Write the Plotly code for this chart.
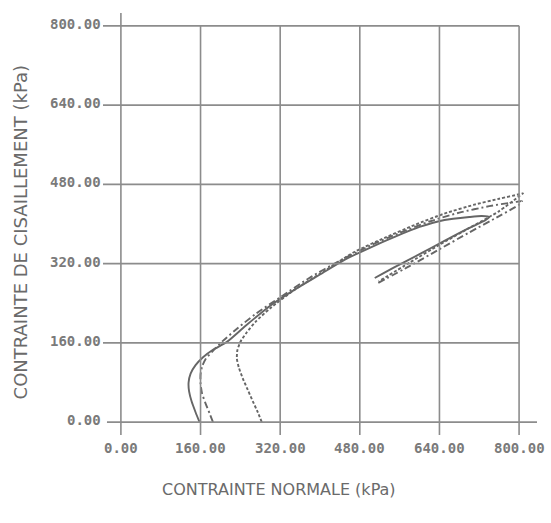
import plotly.graph_objects as go

# Axis ticks (kPa), shared by both axes
TICKS = [0, 160, 320, 480, 640, 800]
TICK_TEXT = ["0.00", "160.00", "320.00", "480.00", "640.00", "800.00"]

# Stress paths: normal stress (x) and shear stress (y), kPa
SOLID_X = [158, 150, 142, 137, 136, 140, 150, 165, 185, 213, 250, 300, 350, 400, 450, 500,
           550, 600, 650, 700, 725, 740, 733, 700, 650, 600, 550, 510]
SOLID_Y = [0, 20, 42, 62, 80, 98, 115, 131, 146, 162, 194, 235, 268, 298, 328, 352,
           374, 394, 408, 414, 416, 414, 408, 392, 366, 339, 313, 291]

DASHDOT_X = [185, 178, 170, 163, 160, 160, 163, 170, 185, 205, 235, 270, 320, 380, 440, 500,
             560, 620, 680, 740, 790, 806, 800, 760, 700, 640, 580, 515]
DASHDOT_Y = [0, 18, 38, 58, 78, 96, 112, 127, 144, 164, 190, 218, 252, 292, 326, 356,
             382, 405, 423, 436, 444, 446, 439, 416, 383, 349, 315, 280]

DASHED_X = [283, 275, 265, 255, 245, 237, 233, 234, 240, 252, 270, 300, 350, 410, 470, 530,
            590, 650, 710, 760, 800, 808, 800, 760, 700, 640, 580, 518]
DASHED_Y = [0, 20, 42, 65, 88, 110, 128, 145, 162, 180, 202, 230, 268, 306, 344, 372,
            398, 421, 439, 451, 460, 462, 456, 426, 392, 358, 322, 284]

LINE_COLOR = "#666666"
GRID_COLOR = "#8c8c8c"
TEXT_COLOR = "#6a6a6a"

fig = go.Figure()

series = [
    (SOLID_X, SOLID_Y, "solid"),
    (DASHDOT_X, DASHDOT_Y, "7px,3px,2px,3px"),
    (DASHED_X, DASHED_Y, "3px,2px"),
]
for xs, ys, dash in series:
    fig.add_trace(go.Scatter(
        x=xs, y=ys, mode="lines",
        line=dict(color=LINE_COLOR, width=1.9, dash=dash, shape="spline", smoothing=0.6),
        hoverinfo="skip", showlegend=False,
    ))

# Grid: each tick line runs across the 0-800 frame with a short stub outside it
X_MIN, X_MAX = -42, 836
Y_MIN, Y_MAX = -26, 828
STUB_X, STUB_Y = -36, -26
grid = dict(color=GRID_COLOR, width=1.6)
shapes = []
for v in TICKS[1:]:
    shapes.append(dict(type="line", xref="x", yref="y", x0=STUB_X, x1=TICKS[-1], y0=v, y1=v, line=grid))
    shapes.append(dict(type="line", xref="x", yref="y", x0=v, x1=v, y0=STUB_Y, y1=TICKS[-1], line=grid))
# Main axes through the origin
shapes.append(dict(type="line", xref="x", yref="y", x0=-28, x1=X_MAX, y0=0, y1=0, line=grid))
shapes.append(dict(type="line", xref="x", yref="y", x0=0, x1=0, y0=STUB_Y, y1=Y_MAX - 2, line=grid))

tick_font = dict(family="DejaVu Sans Mono", size=14, color="#7a7a7a", weight="bold")
xtitle_font = dict(family="DejaVu Sans", size=16, color=TEXT_COLOR)
ytitle_font = dict(family="DejaVu Sans", size=18, color=TEXT_COLOR)

annotations = []
for v, t in zip(TICKS, TICK_TEXT):
    annotations.append(dict(x=0, xref="paper", y=v, yref="y", text=t, showarrow=False,
                            xanchor="right", yanchor="middle", xshift=3, yshift=2, font=tick_font))
    annotations.append(dict(x=v, xref="x", y=0, yref="paper", text=t, showarrow=False,
                            xanchor="center", yanchor="top", yshift=-3, font=tick_font))

annotations.append(dict(x=0.41, xref="paper", y=-0.13, yref="paper",
                        text="CONTRAINTE NORMALE (kPa)", showarrow=False,
                        xanchor="center", yanchor="middle", font=xtitle_font))
annotations.append(dict(x=-0.182, xref="paper", y=0.48, yref="paper",
                        text="CONTRAINTE DE CISAILLEMENT (kPa)", showarrow=False, textangle=-90,
                        xanchor="center", yanchor="middle", font=ytitle_font))

fig.update_layout(
    width=551, height=523, autosize=False,
    margin=dict(l=100, r=14, t=12, b=88, pad=0),
    paper_bgcolor="white", plot_bgcolor="white",
    xaxis=dict(range=[X_MIN, X_MAX], showgrid=False, zeroline=False, showticklabels=False,
               showline=False, ticks=""),
    yaxis=dict(range=[Y_MIN, Y_MAX], showgrid=False, zeroline=False, showticklabels=False,
               showline=False, ticks=""),
    shapes=shapes, annotations=annotations,
)

fig.write_html("out.html")
